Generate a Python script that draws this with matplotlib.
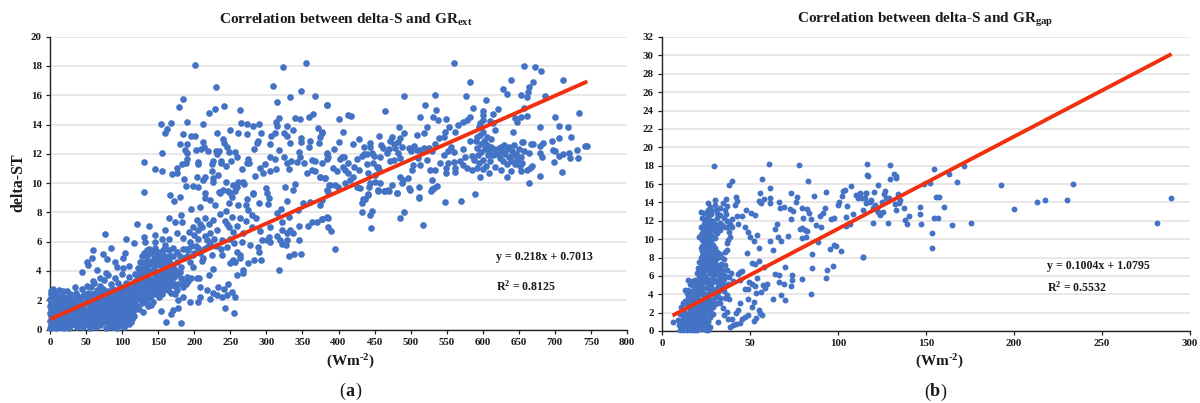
import matplotlib
matplotlib.use('Agg')
import matplotlib.pyplot as plt

# ---------- panel (a): GRext (Wm-2) vs delta-ST, pairs ----------
ext_high = [
(201,18.07),(322.5,17.96),(354.4,18.18),(230.6,16.55),(309.6,16.6),(347.5,16.3),(332.7,15.87),(367.8,15.93),
(184.8,15.73),(178.4,15.23),(315.2,15.55),(240.8,15.27),(228.3,15.07),(220.9,14.82),(263.9,14.98),(384.5,15.36),
(365,14.73),(358.6,14.5),(339.2,14.47),(346.6,14.38),(317,14.43),(313.3,14.2),(315,13.93),(154.3,14.02),
(167.7,14.13),(189.5,14.18),(211.6,14.06),(264.3,14.1),(272.6,14.06),(281,13.93),(289.7,14.02),(329,13.93),
(337.3,13.63),(161.7,13.67),(159,13.4),(184.8,13.36),(195,13.2),(201.5,13.2),(231,13.4),(249.5,13.65),
(260.6,13.43),(273.6,13.36),(292,13.45),(306,13.25),(312,13.4),(324.4,13.4),(329,13.25),(372,13.75),
(377,13.5),(375,13.18),(348.4,13.06),(348.4,12.84),(360.6,12.86),(358.6,12.5),(372.5,12.72),(332.7,12.72),
(305,12.68),(318,12.29),(288.8,12.86),(286.5,12.72),(282.8,12.36),(239.4,13),(241.2,12.72),(245,12.5),
(211.6,12.84),(247.8,12.15),(256.5,12.13),(258.8,11.8),(180.2,12.65),(189.5,12.68),(187.6,12.27),(189.5,12.08),
(203,12.29),(210,12.31),(213.5,12.5),(219.5,12.22),(230,12.22),(234.8,12.22),(231,12),(155.7,12.06),
(344.7,12.13),(346.6,11.81),(305,11.77),(312.3,11.63),(324.4,11.77),(329,11.36),(333.6,11.5),(342.9,11.45),
(352,11.4),(363,11.58),(367.5,11.49),(377,11.36),(384.5,11.63),(384.5,12.04),(130.8,11.45),(189.5,11.63),
(188.5,11.36),(182.5,11.3),(176.5,11),(226.4,11.54),(224,11.3),(236.6,11.54),(237.6,11.36),(243.5,11.2),
(250.5,11.54),(275,11.63),(272.6,11.36),(276.3,11.4),(205,11.45),(205,11.3),(145.6,10.97),(154.8,10.81),
(168.7,10.63),(175.6,10.7),(224.6,10.85),(266.2,10.99),(291,11.04),(298.5,11.3),(305,10.81),(295.7,10.67),
(312.8,10.99),(331,10.97),(355.8,10.7),(362.8,10.9),(367.5,10.81),(374.3,10.4),(381.8,10.35),(203.3,10.4),
(186,10.28),(212.6,10.2),(214.9,10.4),(225.5,10.33),(225.5,10.08),(233.4,10.53),(244,10.1),(283.7,10.49),
(260.6,10.1),(267.7,10.1),(268.9,9.92),(254.2,9.87),(258.8,9.72),(256,9.49),(188.5,9.8),(197.8,9.83),
(205.6,9.76),(326.2,9.76),(339.2,9.94),(336.4,9.53),(387,9.85),(130.8,9.42),(234.8,9.4),(240.3,9.53),
(247.2,9.44),(299.4,9.65),(300.4,9.35),(281.8,9.3),(214.4,9.3),
]
ext_mid = [
(166.4,9.16),(172.4,8.77),(180.7,9.07),(214.9,8.95),(221.8,8.84),(229.4,8.5),(208,8.38),(235.7,9.34),(249.5,9.34),
(251.8,9.02),(248.6,8.66),(260.2,8.47),(271.7,8.5),(273.6,8.9),(281.9,9.25),(290.2,8.66),(304,8.95),(302,8.6),
(275,8.15),(279.6,7.81),(195.9,8.2),(244,8.1),(320.2,8.2),(314.2,7.93),(329,8.79),(343.3,8.15),(351.2,8.66),
(360.4,8.72),(376.6,8.84),(165,7.65),(173.4,7.33),(183,7.33),(181,7.81),(120,7.2),(137.8,7.08),(159.4,6.77),
(145,6.45),(130,6.31),(132,6),(145,6),(106,6.2),(76.7,6.51),(116.5,5.88),(60,5.4),(84,5.56),(73,5.15),(57.8,4.9),
(79.5,4.83),(104.5,5.2),(101.7,4.9),(50.8,4.63),(53,4.4),(90,4.63),(44,3.94),(65.6,4.05),(77.6,3.83),(92.4,4.24),
(101.7,4.17),(109.5,4.37),(70,3.5),(60,3.33),(317.5,4.05),(331.8,5.03),(338.3,5.19),(347.5,5.19),(345.2,6.1),
(344.9,7.08),(358,7.08),(363.4,7.31),(369.7,7.36),(376.6,7.54),(385.9,7.63),(282.8,4.78),(292,4.74),(275,4.56),
(267,4.05),(267,3.83),(258.8,3.71),(290.2,5.31),(288.8,5.65),(293.4,6.1),(291,6.74),(300.4,6.1),(305,6),(303,6.33),
(314.2,6.38),(321,6.79),(329,6.56),(336.5,6.56),(332.7,6.79),(318.9,6.1),(329,6.1),(322,5.85),(327,5.75),(305,7.02),
(321,7.36),(332,7.7),(277.3,5.76),(265.7,6),(259.7,5.31),(263.4,5.08),(263.4,4.85),(254.2,4.74),(256.5,4.62),
(249.5,4.51),(238,5.08),(245,5.65),(254.2,6.67),(259.7,7.06),(252.8,7.7),(245,7.24),(248.2,7),(231,6.79),(226.4,7.47),
(221.8,6.56),(210.5,7.02),(203.3,7.47),(208,7.24),(193.2,6.67),(199.6,6.45),(176.5,6.6),(185,6.22),(194,6),(217.2,5.65),
(224,5.08),(212.6,4.85),(210.3,4.7),(197.8,4.28),(225.5,4.1),(220.9,3.71),(207,3.53),(203.3,3.49),(195,3.49),(189.5,3.6),
(184.8,3.26),(188.5,3.14),(180.2,3.94),(173.4,4.05),(166.4,3.71),(168.7,3.03),(175.6,2.69),(207.9,2.92),(217,2.69),
(226.4,2.46),(233.4,2.92),(238,2.23),(245,2.35),(246.3,3.14),(241.2,2.8),(252.8,2.57),(256.5,2.2),(221.8,2.07),(231,2.35),
(207.9,2.19),(205.6,1.89),(194,1.89),(184.8,2.23),(177.9,2),(177,1.5),(171,1.32),(167.3,1.05),(153.9,1.25),(160.4,0.48),
(181.6,0.46),(242.6,1.46),(255,1.14),(215,7.6),(220,7.2),(236,7.9),(242,7.4),(198,7),(205,6.8),(215,6.4),(228,6.2),
(238,6.1),(250,6.2),(255,5.9),(268,6.6),(272,7.4),(280,7),(285,7.6),(263,7.6),(230,5.7),(237,5.5),(205,5.6),(200,5.2),
(192,5.4),(184,5.5),(176,5.3),(170,5.6),(160,5.8),(155,6.2),(165,6.2),
]
ext_band = [
(116,2.8),(118,3.3),(120,2.6),(122,3.6),(123,3),(124,2.2),(125,3.9),(126,3.3),(127,2.6),(128,4.2),(129,3.6),(130,3),
(131,2.3),(132,4.6),(132,3.9),(133,3.3),(134,2.7),(135,5),(135,4.3),(136,3.6),(137,3),(138,2.2),(139,5.2),(139,4.6),
(140,3.9),(141,3.3),(142,2.6),(143,1.9),(144,4.9),(144,4.2),(145,3.6),(146,3),(147,2.4),(148,5),(148,4.5),(149,3.9),
(150,3.2),(151,2.7),(152,5.2),(152,4.4),(153,3.8),(154,3),(155,2.4),(156,5.4),(156,4.7),(157,4.1),(158,3.5),(159,2.8),
(160,5.6),(160,5),(161,4.4),(162,3.6),(163,2.7),(165,5.4),(165,4.7),(166,4),(167,3.3),(168,2.5),(170,5),(170,4.3),
(172,3.6),(173,3),(174,2.4),(176,4.6),(177,3.8),(178,3.1),(180,5),(181,4.3),(182,3.5),(184,2.9),(186,4.9),(188,5.5),
(190,5),(192,3.3),(194,4.6),(196,5.7),(198,5.1),(202,5.7),(205,6.2),(208,5.2),(214,5.5),(218,6.1),(222,5.9),(119,2),
(121,1.6),(124,1.4),(127,1.8),(129,1.2),(133,1.9),(136,1.6),(140,1.7),(125,4.6),(128,5),(131,5.2),(134,5.4),(137,5.5),
(141,5.3),(146,5.6),(150,5.3),(122,4.2),(118,3.8),(115,3.2),
(120,3.1),(121,2.2),(123,2.6),(124,3.4),(126,2.1),(127,3.6),(128,2.9),(129,2.3),(130,3.7),(131,4.4),(132,3),(133,2.4),
(134,3.7),(135,2.1),(136,4.7),(137,3.9),(138,2.8),(139,3.4),(140,2.3),(141,4.5),(142,3),(143,4),(144,3.4),(145,2.5),
(146,4.6),(147,3.3),(148,2.8),(149,3.5),(150,4.5),(151,2.2),(152,3.2),(153,4.8),(154,3.5),(155,4.2),(156,3),(157,2.7),
(158,4.6),(159,3.9),(160,3.2),(161,4.9),(162,2.9),(163,4),(164,3.4),(165,3),(166,5),(168,4.5),(169,3.8),(171,3.2),
]
ext_low = [
(0,0.1),(0,0.6),(0,1.1),(0,1.6),(0,2.1),(1,2.6),(1,0.3),(1,0.9),(1,1.4),(2,1.9),(2,2.4),(2,0.1),(3,0.7),(3,1.2),(3,1.7),
(4,2.2),(4,2.75),(5,0.2),(5,0.9),(5,1.5),(6,2),(7,0.5),(7,1.1),(7,2.5),(8,1.7),(9,0.1),(9,0.8),(10,1.3),(10,2.1),(11,0.4),
(12,1.8),(12,2.7),(13,1),(14,0.2),(14,1.5),(15,2.3),(16,0.6),(17,1.2),(17,1.9),(18,2.6),(19,0.1),(19,0.9),(20,1.6),(21,2.1),
(22,0.4),(23,1.2),(23,1.8),(24,2.65),(25,0.8),(26,1.4),(26,2.2),(27,0.1),(28,1),(29,1.7),(30,2.1),(31,0.5),(32,1.2),(33,1.9),
(34,2.9),(35,0.9),(36,1.5),(37,0.2),(37,2.3),(38,1.1),(40,1.8),(41,0.5),(42,1.3),(43,2.2),(44,1),(45,2.8),(46,0.2),(46,1.6),
(47,2.4),(48,1.1),(49,0.6),(50,1.9),(51,3),(52,1.3),(53,2.5),(54,0.8),(55,0.1),(55,1.7),(56,2.2),(57,2.9),(58,1.1),(59,0.5),
(60,1.6),(61,2.4),(61,3.2),(62,0.9),(63,1.9),(64,0.2),(65,1.3),(65,2.7),(66,2.1),(67,0.7),(68,1.6),(69,3),(70,0.3),(70,2.3),
(71,1.1),(72,1.8),(73,2.8),(74,0.6),(75,1.4),(75,3.4),(76,2.2),(77,0.9),(78,0.1),(78,1.7),(79,2.6),(80,1.2),(81,3.7),(82,0.5),
(82,2),(83,1.5),(84,3.1),(85,0.9),(85,2.4),(86,0.2),(87,1.8),(88,2.8),(89,1.2),(90,3.5),(90,0.6),(91,2.1),(92,1.5),(93,0.1),
(93,2.6),(94,3.2),(95,1),(96,1.8),(97,2.3),(98,0.6),(99,1.4),(99,2.9),(100,3.8),(101,0.3),(101,2),(102,1.1),(103,2.6),(104,1.6),
(105,3.2),(106,0.8),(107,2.2),(108,1.3),(108,2.9),(109,3.6),(110,0.4),(110,1.8),(111,2.4),(112,1),(113,3),(114,1.6),(115,2.2),
(116,0.9),(117,1.3),(118,2.5),(112,0.5),(103,0.2),
(3,0.3),(4,1),(4,1.5),(6,0.6),(6,1.2),(8,0.3),(8,1),(8,2.3),(9,1.5),(10,0.6),(11,1),(11,1.7),(12,0.5),(13,1.4),(13,2.1),(14,0.8),
(15,1.2),(16,1.7),(16,0.2),(18,0.5),(18,1.4),(19,2.2),(20,0.6),(21,1.2),(22,1.6),(23,0.2),(24,0.9),(24,2),(25,1.3),(27,0.6),(27,1.8),
(28,2.4),(29,0.3),(30,1.2),(31,1.5),(32,0.6),(33,1.1),(34,2.1),(35,0.4),(35,1.7),(36,2.5),(38,0.7),(39,1.5),(40,0.9),(41,2.1),(42,0.3),
(43,1.7),(44,0.6),(45,1.3),(47,0.8),(48,1.8),(49,2.3),(50,1),(51,0.4),(52,2.1),(53,0.7),(54,1.4),(56,1),(57,0.4),(57,1.9),(58,2.4),
(59,1.4),(60,0.8),(61,1.2),(62,2),(63,0.5),(64,1.5),(64,2.5),(66,0.9),(67,1.3),(68,2.3),(69,0.4),(69,1.9),(71,0.7),(72,1.4),(72,2.5),
(73,1),(74,2),(76,0.5),(76,1.6),(77,2.4),(78,1.2),(79,0.6),(80,2),(81,0.9),(81,1.6),(83,0.3),(83,2.4),(84,1.1),(85,1.7),(86,2.8),
(87,0.6),(88,1.4),(88,2.2),(89,0.2),(90,1.7),(91,0.9),(92,2.5),(93,1.3),(94,0.4),(94,2),(95,1.6),(96,2.8),(97,0.8),(97,1.3),(98,1.9),
(99,0.3),(100,1),(100,2.4),(101,1.5),(102,2.8),(103,0.7),(104,2.1),(105,1.1),(106,1.6),(106,2.6),(107,0.5),(108,1.9),(109,0.9),(110,2.7),
(111,1.3),(112,2),(113,1.6),(114,2.6),(115,1),(116,1.8),(117,2.5),(118,1.6),(119,2.8),(113,0.7),
]
ext_right = [
(560.3,18.23),(657.8,18),(673,17.94),(681.3,17.64),(711.4,17.05),(582,16.9),(638.8,17.05),(669.3,16.9),(664.2,16.55),(628.2,16.41),
(634.2,16.09),(663.3,16.25),(652.7,16.05),(661,15.9),(533.5,16.05),(576.4,15.93),(491,15.93),(686.4,15.93),(605,15.68),(384.7,15.36),
(520,15.34),(535.8,15.02),(586,15.14),(464.1,14.93),(733.6,14.77),(621.7,15.07),(601,14.95),(601,14.66),(614.3,14.7),(657.3,15.1),
(661.5,14.59),(652.7,14.5),(644.8,14.43),(647,14.2),(700.3,14.5),(513.6,14.5),(530.7,14.54),(538.5,14.34),(549.2,14.4),(400.8,14.4),
(413.8,14.62),(417,14.57),(582.4,14.54),(577.8,14.34),(573.2,14.2),(601,14.34),(596.3,14.13),(595.4,13.86),(610.2,14.27),(613.9,14.09),
(679.5,13.86),(706.3,13.9),(718.3,13.86),(484,13.86),(522.4,13.86),(552.9,13.86),(547.8,13.47),(565.4,13.95),(561.7,13.52),(617.1,13.63),
(642.5,13.47),(406,13.47),(376.8,13.4),(491,13.4),(518.7,13.45),(509.4,13.29),(455.8,13.25),(474.8,13.15),(485.4,13.06),(429,13),
(722,13.16),(706.3,13.06),(654,12.84),(655.5,12.79),(696,12.88),(683.2,12.77),(679.5,12.56),(666.6,12.7),(670.2,12.68),(400.4,12.84),
(420.7,12.65),(443.8,12.72),(443.8,12.5),(458.6,12.6),(462.3,12.38),(466.9,12.08),(477,12.68),(478.5,12.38),(483,12.84),(498.3,12.38),
(504.8,12.56),(508.5,12.27),(513,12.27),(525.6,12.38),(534,12.68),(540,13.06),(546.4,13.18),(394.4,12.34),(383.7,12),(385.1,11.81),
(435.5,12.45),(435.5,12),(433.2,11.86),(446.1,12.04),(449.4,11.86),(457.7,11.81),(426.3,11.63),(404.5,11.81),(407.8,11.77),(402.2,11.63),
(573.2,12.31),(582.4,12.9),(591.7,13.18),(596.3,13.29),(605.5,13.13),(596.3,10.4),(609.3,10.72),(625,10.9),(634.2,10.45),(639.3,10.83),
(653.2,10.83),(664.2,10.03),(679.5,10.49),(709.5,10.78),(698.9,11.45),(664.7,12.04),(681.8,11.81),(679,12.05),(706.3,11.85),(711.8,12),
(720.2,12.04),(721.1,11.7),(730.3,12.27),(731.7,11.74),(741.9,12.54),(745.1,12.56),(698,12.27),(700.3,12.22),(665.6,11),(661,10.9),
(668,11.2),(561.7,10.74),(549.2,10.67),(549.2,11),(560.3,11.47),(560.7,12.1),(546.4,11.9),(552.4,11.35),(577.8,11),(573.2,11.24),
(584.8,11.86),(584.8,10.9),(591.7,11),(527,10.9),(534,10.9),(540.9,11.35),(522.4,11.58),(513.1,11.24),(510.8,11.7),(501.6,10.9),
(503.9,11.24),(485.4,10.45),(490,10.22),(497,10.33),(487.7,10.03),(498.3,9.65),(511.7,9.7),(529.3,10.22),(536.2,9.8),(529.3,9.58),
(533,9.65),(512.2,9.08),(480.8,9.35),(469.2,9.53),(473.9,9.87),(464.6,9.49),(455.4,9.53),(457.7,10.03),(450.7,10.1),(450.7,10.55),
(443.8,10),(442.9,9.76),(441.5,10.67),(439.2,11.31),(453,11.13),(456.8,10.9),(448.4,11.36),(471.5,11.54),(477,11.58),(483,12.04),
(485.4,11.7),(487.7,12.5),(413.8,11.36),(409.2,10.9),(413.8,10.67),(420.7,10.45),(416.1,10.22),(406.8,11.13),(393,11),(397.6,10.8),
(381.4,10.33),(374.5,10.44),(388.4,9.87),(395.3,9.87),(399.9,9.76),(383.7,9.53),(386,9.42),(409.2,10),(425.3,9.76),(430,9.65),
(441.5,9.2),(434.6,8.9),(589.4,9.25),(570,8.77),(548.3,8.68),(511.7,8.95),(528.4,9.47),(499.3,9.5),(481.2,9.29),(470.6,9.45),
(463.2,9.45),(455.4,9.45),(440.6,9.25),(436.4,8.88),(433.2,8.61),(433.2,8),(446.1,8.09),(443.8,7.81),(490.5,8.02),(485.9,7.61),
(517.8,7.11),(445.2,6.92),(383.7,7.7),(376.8,7.52),(386,7.02),(390.2,6.74),(395.3,5.47),(374.5,8.5),
]
ext_cluster = [
(590,12.9),(592,12.4),(594,11.9),(595,11.4),(597,12.7),(598,12.1),(600,13.5),(600,11.6),(602,12.9),(603,12.3),(604,11.2),(606,12.6),
(607,11.9),(609,12.2),(610,11.5),(611,13),(612,12.5),(614,11.9),(615,12.3),(617,11.1),(620,12),(622,12.4),(624,11.7),(625,12.5),
(627,12.1),(628,11.5),(630,12.6),(631,12),(633,11.3),(634,12.3),(636,11.8),(637,12.5),(639,11.5),(640,12.2),(642,11.9),(643,12.6),
(645,11.3),(646,12),(648,11.6),(650,12.3),(651,11.2),(653,11.8),(655,11.4),(657,12.2),(600,10.95),(588,11.6),(575,11.8),(568,11.5),
(562,11),(556,12.5),(552,12.2),(530,12.2),(518,12.4),(500,12.2),(472,12.9),(470,12.3),(455,11.1),(440,12),(428,10.9),(422,11.1),
]

# ---------- panel (b): GRgap (Wm-2) vs delta-ST, pairs ----------
gap_scatter = [
(29.7,17.93),(60.9,18.15),(77.7,18.08),(116.4,18.22),(116.4,16.96),(39.5,16.34),(37.8,15.94),(57.1,16.56),(83,16.38),(61.4,15.58),
(55.6,15.04),(73.2,15.07),(93.4,15.14),(107.6,15.76),(103.9,15.4),(102.8,15.25),(112.3,15.04),(116,15.07),(86.4,14.71),(76.7,14.6),
(76.4,14.06),(55.2,14.17),(58,14.42),(61.2,14.49),(61.2,13.88),(56.5,13.88),(66.2,14.09),(42,14.6),(42.4,14.17),(41.4,13.7),(36.5,14.42),
(34.8,13.95),(36.7,13.59),(35.7,13.15),(36.3,12.72),(26.1,13.95),(29.9,14.24),(29.9,13.7),(30.6,13.22),(25.9,13.22),(25.7,12.79),
(48,13.15),(50.3,12.86),(52.7,12.6),(45.2,12.5),(42.7,12.5),(40,12.2),(43.3,11.63),(47,11.34),(49,10.8),(50,10.18),(52.2,9.78),(53.7,10.43),
(55.2,9.06),(48.4,8.51),(50.9,7.43),(52.7,7.28),(55.2,7.64),(58,6.92),(61.2,9.78),(62.8,8.77),(64.1,11.05),(65.6,11.63),(66,10.18),(67.5,9.78),
(71.6,10.33),(66.9,13.44),(69.2,13.5),(72.9,13.26),(74.5,13.04),(73.5,12.2),(79.6,13.37),(82.6,13.33),(83.4,12.79),(80.2,12.32),(84.5,12.14),
(91.5,12.79),(92.4,13.44),(90,12.5),(87.7,11.52),(90.2,11.34),(95.8,12.2),(97.5,12.25),(100,13.7),(100.6,14.06),(102,14.67),(105.1,13.59),
(104.7,12.36),(104.3,11.41),(106.6,11.63),(108.5,12.72),(78.3,11.05),(79.6,11.2),(81.1,10.98),(82.6,10.87),(79.6,10.14),(82,10.18),(88.7,9.64),
(97.5,9.35),(98.7,9.24),(95.5,8.91),(101.9,8.7),(114,8.08),(85.4,8.37),(85.3,6.81),(93.8,6.63),(97.2,7.07),(93,5.8),(84.7,4.02),(79.4,5.65),
(70.1,7),(64.1,6.2),(66.4,6.09),(73.9,6.09),(74,5.54),(73.5,4.93),(66.5,5.36),(69.2,5.1),(59.9,5.07),(57.5,5),(58.4,4.64),(62.8,3.44),(67.5,3.95),
(70.1,3.37),(53.3,4.09),(56.5,4.2),(53.7,5.72),(49.5,5.29),(50.9,5.1),(53.1,4.93),(49,4.53),(47,4.56),(45.2,6.56),(44.2,6.38),(43.3,6.2),
(48.6,3.48),(44.2,3),(52.4,3.19),(50.9,2.64),(55,2.28),(55.9,1.92),(56.7,1.74),(53.3,1.38),(52.2,1.12),(49,1.74),(47,1.56),(45.2,1.27),(44.2,0.9),
(43.3,2.28),(42.3,1.92),(36.7,2.1),(35.3,1.74),(37.6,1.27),(39.5,1.27),(38.6,0.47),(40.5,0.65),(42,0.72),(31.9,1),(32,3.73),(32.9,3),(34.4,2.46),
(35.7,3.55),(38,3.44),(36.9,3.91),(27.2,0.47),(26.3,1),(25.3,0.47),(25,0.1),(6,1),(44.2,5.54),(40.5,5.47),(37.6,5.1),(34.8,5.1),(32.9,4.93),
(35.2,6.09),(32.9,6.09),(31.9,6.63),(31.9,7.07),(33.8,7.28),(29.1,7.36),(27.2,7.9),(33.8,8.08),(32.9,8.37),(31,8.62),(35.7,8.62),(36.7,8.8),
(36.7,9.53),(37.6,9.89),(38.6,10.25),(38.2,10.8),(39.5,11.34),(38.6,11.63),(36.7,11.34),(35.7,11.34),(32.9,10.98),(31,10.62),(30,10.07),(27.2,9.35),
]
gap_right = [
(129.5,18.04),(171.6,17.93),(154.5,17.6),(131.6,17.14),(133.1,16.88),(133,16.6),(116.9,16.92),(129.4,16.49),(163.3,17.07),(167.6,16.27),
(122.9,15.94),(149.1,15.98),(152.1,16.09),(192.8,15.94),(233.3,15.98),(120.6,15.11),(126.7,15.22),(125.9,14.96),(116.1,15.04),(112.7,14.96),
(113.6,14.53),(115.3,14.53),(127.5,14.53),(128.8,14.46),(134.3,14.89),(135.4,14.31),(134.5,13.88),(118.8,14.24),(125,13.99),(155.7,14.57),
(157.4,14.57),(132.6,13.8),(133.1,13.22),(137.7,13.44),(119.9,13.41),(122.2,13.15),(114.4,13.22),(125.6,12.93),(123.7,12.61),(123,12.97),
(146.4,13.48),(146.4,12.72),(160.2,13.51),(140.5,12.5),(137.9,12.1),(139.4,11.7),(154.7,12.28),(156.6,12.32),(119.7,11.74),(128.2,11.78),
(147,11.63),(164.8,11.49),(175.4,11.74),(153.6,10.65),(153.4,9.06),(114.4,8.08),(200.2,13.26),(212.9,14.09),(217.4,14.31),(230.1,14.31),
(289.2,14.46),(281.3,11.74),(110.5,14.8),(111.5,14.5),(118,14),(121,13.7),(116,13.9),
]
gap_dense = [
(22,13),(23,12.3),(24,11.6),(24,12.8),(25,12.2),(25,11.2),(26,11.8),(26,12.6),(27,12.1),(27,11.1),(28,11.6),(28,12.7),(29,12),(29,11.2),(30,11.7),
(31,12.3),(32,11.4),(33,12.6),(22,11.3),(22,10.4),(23,10.7),(23,9.9),(24,10.2),(25,10.5),(25,9.7),(26,10),(27,10.6),(28,9.8),(21,10.2),(22,9),
(23,8.7),(24,9.1),(25,8.6),(26,8.2),(27,8.9),(28,8.4),(29,8.7),(30,9),(22,8),(22,7.4),(21,7.5),(20.5,6.9),(23,7.5),(24,7.9),(25,7.2),(26,7.6),
(27,6.9),(28,7.2),(29,6.6),(30,6.9),(31,6.2),(20,6.3),(21,6),(22,6.6),(23,5.9),(24,6.5),(25,6),(26,5.6),(27,6.3),(28,5.7),(29,6.1),(30,5.5),(31,5.6),
(33,5.7),(34,6.2),(15,5.5),(16,5.1),(17,5.4),(18,4.9),(19,5.6),(20,5.1),(21,4.7),(22,5.2),(23,4.8),(24,5.3),(25,4.7),(26,4.9),(27,4.4),(28,4.8),
(29,4.2),(30,4.5),(13,4.5),(14,4.1),(15,4.5),(16,3.9),(17,4.3),(18,3.7),(19,4.2),(20,3.8),(21,3.4),(22,4),(23,3.4),(24,3.8),(25,3.2),(26,3.6),(27,3),
(28,3.4),(29,2.6),(30,2.9),(11,2.6),(12,3),(13,3.3),(14,2.6),(15,3),(16,2.4),(17,2.9),(18,2.3),(19,2.8),(20,2.2),(21,2.6),(22,2),(23,2.6),(24,2.2),
(25,2.6),(26,2),(27,2.3),(10,1.8),(11,2),(12,1.4),(13,2),(14,1.4),(15,1.9),(16,1.3),(17,1.8),(18,1.2),(19,1.7),(20,1.1),(21,1.5),(22,1),(23,1.5),
(24,1.2),(9,1.2),(9.5,0.6),(10,0.1),(10.5,0.9),(11,0.4),(11.5,1.1),(12,0.1),(12.5,0.7),(13,0.3),(13.5,1),(14,0.1),(14.5,0.6),(15,0.2),(15.5,0.9),
(16,0.4),(16.5,0.1),(17,0.8),(17.5,0.3),(18,0.1),(18.5,0.7),(19,0.3),(20,0.1),(21,0.6),(22,0.2),(24,0.6),(26,0.1),(27.5,1.5),(28,2),
(12,1.7),(13,1.2),(14,1.9),(15,1.1),(16,2.1),(17,1.5),(18,2.6),(19,1.4),(20,2.5),(21,1.9),(22,1.4),(23,2.2),(24,1.7),(25,1.3),(26,2.4),
(14,3.3),(15,3.7),(16,3.2),(17,3.6),(18,3.1),(19,3.5),(20,3),(21,4.2),(22,3.1),(23,4.2),(24,2.9),(25,4),(26,3),(17,5),(18,5.4),(19,4.6),(20,4.5),
(21,5.4),(22,4.4),(23,6.2),(24,5.9),(25,5.4),(26,6.6),(27,5.2),(28,6.3),(29,5.3),(30,6.2),(22,5.8),(21,6.7),(23,7.1),(24,6.9),(25,7.7),(26,7.1),(27,7.4),
(28,7.8),(29,7.2),(23,8.2),(24,8.4),(25,9.1),(26,9.3),(24,9.7),(23,9.3),(26,10.8),(24,10.9),(25,11.8),(23,11.2),(27,11.7),(28,11.2),(26,12.3),(24,12.2),
(30,7.5),(31,7.9),(32,6.6),(33,6.9),(34,5.4),(35,5.7),(36,6),(31,8.1),(29,8),(30,8.3),(28,9),(29,9.4),(29,10.2),(30,10.9),(31,11.3),(33,11.8),(34,11.5),
(35,12.3),(37,12),(28,10.5),(27,9.7),(31,12.8),(33,13.4),(28,13.2),(27,13.5),(31,4.7),(32,4.2),(33,3.6),(30,3.7),(31,3.1),(29,3.4),(28,2.6),(29,1.8),
(27,1.5),(26,1.2),(25,0.9),(23,0.6),(32,5.2),(34,6.6),(36,7.2),(35,7.8),(37,6.6),(38,5.9),(39,6.3),(33,4.6),(35,4.4),
]

# ---------- trend lines (the slope in panel (a) as drawn) and printed labels ----------
ext_slope, ext_intercept = 0.0218, 0.7013
gap_slope, gap_intercept = 0.1004, 1.0795
ext_span = [0, 745]
gap_span = [6, 289.5]
ext_xticks = list(range(0, 801, 50))
ext_yticks = list(range(0, 21, 2))
gap_xticks = list(range(0, 301, 50))
gap_yticks = list(range(0, 33, 2))
ext_points = ext_high + ext_mid + ext_band + ext_low + ext_right + ext_cluster
gap_points = gap_scatter + gap_right + gap_dense

plt.rcParams['font.family'] = ['Liberation Serif', 'DejaVu Serif']
plt.rcParams['mathtext.fontset'] = 'custom'
plt.rcParams['mathtext.rm'] = 'Liberation Serif:bold'
plt.rcParams['mathtext.bf'] = 'Liberation Serif:bold'
plt.rcParams['mathtext.default'] = 'rm'

W, H = 1200, 403
fig = plt.figure(figsize=(W / 100, H / 100), dpi=100)


def place(l, r, t, b):
    return fig.add_axes([l / W, 1 - b / H, (r - l) / W, (b - t) / H])


def ptext(x, y, s, **kw):
    kw.setdefault('ha', 'center')
    kw.setdefault('va', 'center')
    kw.setdefault('color', '#1a1a1a')
    fig.text(x / W, 1 - y / H, s, **kw)


def panel(ax, pts, slope, icpt, span, xt, yt, size):
    ax.scatter([p[0] for p in pts], [p[1] for p in pts], s=size, color='#4472C4',
               linewidths=0, zorder=3, clip_on=False)
    ax.plot(span, [slope * v + icpt for v in span], color='#F0300F', lw=2.8,
            solid_capstyle='butt', zorder=4)
    ax.set_xlim(xt[0], xt[-1])
    ax.set_ylim(yt[0], yt[-1])
    ax.set_xticks(xt)
    ax.set_yticks(yt)
    ax.grid(axis='y', color='#e4e4e4', lw=1.2, zorder=0)
    ax.set_axisbelow(True)
    for s in ('top', 'right'):
        ax.spines[s].set_visible(False)
    for s in ('left', 'bottom'):
        ax.spines[s].set_linewidth(1.0)
        ax.spines[s].set_color('#222222')
    ax.tick_params(length=3, width=0.9, color='#222222', labelsize=7.8, pad=3, labelcolor='#1a1a1a')
    for lab in ax.get_xticklabels() + ax.get_yticklabels():
        lab.set_fontweight('bold')


ax1 = place(50, 627, 36.7, 329.5)
panel(ax1, ext_points, ext_slope, ext_intercept, ext_span, ext_xticks, ext_yticks, 23)
ax2 = place(662, 1190, 37, 331)
panel(ax2, gap_points, gap_slope, gap_intercept, gap_span, gap_xticks, gap_yticks, 18)

tw = dict(fontweight='bold')
ptext(346, 20, r'Correlation between delta-S and GR$_{\mathrm{ext}}$', fontsize=11, **tw)
ptext(925, 20, r'Correlation between delta-S and GR$_{\mathrm{gap}}$', fontsize=11, **tw)
ptext(18, 183, 'delta-ST', fontsize=11.5, rotation=90, **tw)
ptext(350, 362, r'(Wm$^{\text{-}2}$)', fontsize=11, **tw)
ptext(939, 362, r'(Wm$^{\text{-}2}$)', fontsize=11, **tw)
for cx, cy, letter in [(350, 391, 'a'), (935, 392, 'b')]:
    ptext(cx - 8, cy, '(', fontsize=13)
    ptext(cx, cy, letter, fontsize=13, **tw)
    ptext(cx + 8, cy, ')', fontsize=13)
ptext(496, 257, 'y = 0.218x + 0.7013', fontsize=8.6, ha='left', **tw)
ptext(496, 286, r'R$^{2}$ = 0.8125', fontsize=8.6, ha='left', **tw)
ptext(1047, 266, 'y = 0.1004x + 1.0795', fontsize=8.6, ha='left', **tw)
ptext(1047, 287, r'R$^{2}$ = 0.5532', fontsize=8.6, ha='left', **tw)

fig.savefig('out.png', dpi=100)
